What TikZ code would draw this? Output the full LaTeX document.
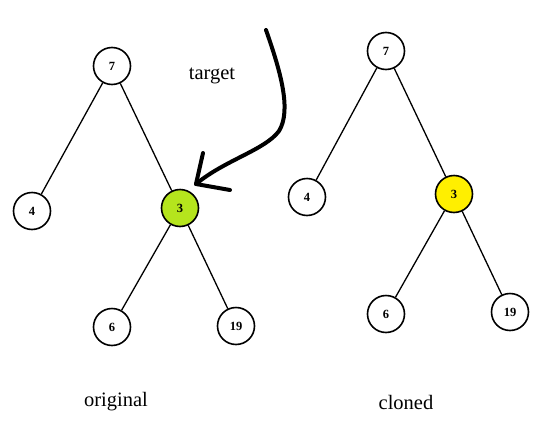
\documentclass[tikz,border=0pt]{standalone}
\usepackage{fontspec}
\setmainfont{Liberation Serif}
\begin{document}
\begin{tikzpicture}[x=1pt,y=-1pt,
  tnode/.style={circle,draw=black,line width=1.6pt,fill=white,minimum size=37pt,inner sep=0pt,font=\fontsize{12.5}{13}\selectfont\bfseries},
  edge/.style={line width=1.3pt},
  lbl/.style={font=\fontsize{20.5}{22}\selectfont}]
\useasboundingbox (0,0) rectangle (544,426);
\definecolor{lime}{HTML}{B5E51D}
\definecolor{yel}{HTML}{FFEF00}
% left tree
\node[tnode] (a7) at (112,66) {7};
\node[tnode] (a4) at (32,211) {4};
\node[tnode,fill=lime] (a3) at (180,208) {3};
\node[tnode] (a6) at (112,327) {6};
\node[tnode] (a19) at (236,326) {19};
\draw[edge] (a7) -- (a4);
\draw[edge] (a7) -- (a3);
\draw[edge] (a3) -- (a6);
\draw[edge] (a3) -- (a19);
% right tree
\node[tnode] (b7) at (386,51) {7};
\node[tnode] (b4) at (307,197) {4};
\node[tnode,fill=yel] (b3) at (454,194) {3};
\node[tnode] (b6) at (386,314) {6};
\node[tnode] (b19) at (510,312) {19};
\draw[edge] (b7) -- (b4);
\draw[edge] (b7) -- (b3);
\draw[edge] (b3) -- (b6);
\draw[edge] (b3) -- (b19);
% labels
\node[lbl] (tg) at (212,76) {target};
\node[lbl] (orig) at (116,402) {original};
\node[lbl] (cl) at (406,402) {cloned};
% hand-drawn arrow
\coordinate (s) at (266,30);
\coordinate (t) at (196,184);
\coordinate (h1) at (203,153);
\coordinate (h2) at (230,190);
\draw[line width=4pt,line cap=round] (s) .. controls (280,70) and (292,110) .. (279,131) .. controls (265,150) and (225,160) .. (t);
\draw[line width=4pt,line cap=round,line join=round] (h1) -- (t) -- (h2);
\end{tikzpicture}
\end{document}
